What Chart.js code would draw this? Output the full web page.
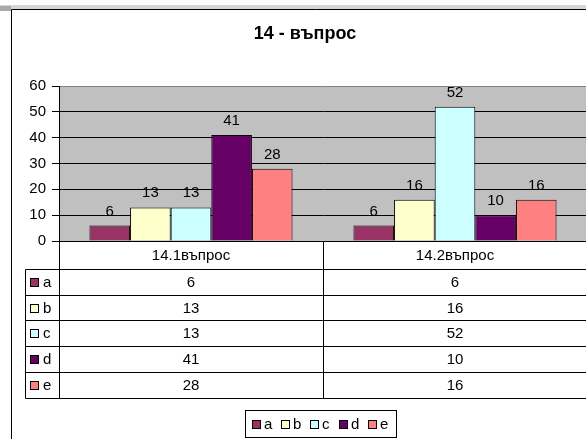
<!DOCTYPE html>
<html>
<head>
<meta charset="utf-8">
<title>14 - въпрос</title>
<script src="https://cdn.jsdelivr.net/npm/chart.js@4.4.0/dist/chart.umd.min.js"></script>
<style>
    html, body { margin: 0; padding: 0; overflow: hidden; background: #fff; }
    #wrap { position: relative; width: 620px; height: 470px; }
</style>
</head>
<body>
<div id="wrap"><canvas id="chart" width="620" height="470"></canvas></div>
<script>
const chartTitle = "14 - въпрос";
const categories = ["14.1въпрос", "14.2въпрос"];
const seriesNames = ["a", "b", "c", "d", "e"];
const seriesA = [6, 6];
const seriesB = [13, 16];
const seriesC = [13, 52];
const seriesD = [41, 10];
const seriesE = [28, 16];
const yTicks = [0, 10, 20, 30, 40, 50, 60];

const seriesValues = [seriesA, seriesB, seriesC, seriesD, seriesE];
const seriesColors = ["#993366", "#FFFFCC", "#CCFFFF", "#660066", "#FF8080"];
const FONT = "Arial, 'Liberation Sans', sans-serif";

document.addEventListener("DOMContentLoaded", () => {
    const ctx = document.getElementById("chart").getContext("2d");

    // frame, title and plot background
    const frame = {
        id: "frame",
        beforeDraw(chart) {
            const c = chart.ctx;
            const a = chart.chartArea;
            c.save();
            c.fillStyle = "#d6d6d6";
            c.fillRect(0, 5, chart.width, 4);
            c.fillStyle = "#a8a8a8";
            c.fillRect(0, 6, 11, 5);
            c.strokeStyle = "#000";
            c.lineWidth = 1;
            c.beginPath();
            c.moveTo(11.5, chart.height);
            c.lineTo(11.5, 9.5);
            c.lineTo(chart.width, 9.5);
            c.stroke();

            c.fillStyle = "#C0C0C0";
            c.fillRect(a.left, a.top, a.right - a.left, a.bottom - a.top);

            c.fillStyle = "#000";
            c.font = "bold 18px " + FONT;
            c.textAlign = "center";
            c.textBaseline = "middle";
            c.fillText(chartTitle, 305, 34);
            c.restore();
        }
    };

    // values above the bars
    const barLabels = {
        id: "barLabels",
        afterDatasetsDraw(chart) {
            const c = chart.ctx;
            c.save();
            c.fillStyle = "#000";
            c.font = "15px " + FONT;
            c.textAlign = "center";
            c.textBaseline = "alphabetic";
            chart.data.datasets.forEach((ds, i) => {
                chart.getDatasetMeta(i).data.forEach((bar, j) => {
                    c.fillText(String(ds.data[j]), bar.x, bar.y - 10);
                });
            });
            c.restore();
        }
    };

    // data table under the plot + legend box
    const dataTable = {
        id: "dataTable",
        afterDraw(chart) {
            const c = chart.ctx;
            const a = chart.chartArea;
            const x = chart.scales.x;
            const keyLeft = 25.5;
            const headH = 27.5;
            const rowH = 25.7;
            const top = Math.round(a.bottom) + 0.5;
            const rowTops = seriesNames.map((_, i) => Math.round(top + headH + i * rowH) + 0.5);
            const bottom = Math.round(top + headH + seriesNames.length * rowH) + 0.5;
            const catW = (a.right - a.left) / categories.length;

            c.save();
            c.strokeStyle = "#000";
            c.lineWidth = 1;
            c.beginPath();
            // vertical lines
            for (let i = 0; i <= categories.length; i++) {
                const vx = Math.round(a.left + i * catW) + 0.5;
                c.moveTo(vx, top);
                c.lineTo(vx, bottom);
            }
            c.moveTo(keyLeft, rowTops[0]);
            c.lineTo(keyLeft, bottom);
            // horizontal lines
            rowTops.concat([bottom]).forEach(y => {
                c.moveTo(keyLeft, y);
                c.lineTo(chart.width, y);
            });
            c.stroke();

            c.fillStyle = "#000";
            c.font = "15px " + FONT;
            c.textAlign = "center";
            c.textBaseline = "middle";
            categories.forEach((cat, j) => {
                c.fillText(cat, x.getPixelForValue(j), top + headH / 2 + 1);
            });
            seriesNames.forEach((name, i) => {
                const cy = rowTops[i] + rowH / 2;
                seriesValues[i].forEach((v, j) => {
                    c.fillText(String(v), x.getPixelForValue(j), cy + 1);
                });
                c.fillStyle = seriesColors[i];
                c.fillRect(30, Math.round(cy) - 4, 9, 9);
                c.strokeRect(30.5, Math.round(cy) - 3.5, 8, 8);
                c.fillStyle = "#000";
                c.textAlign = "left";
                c.fillText(name, 43, cy + 1);
                c.textAlign = "center";
            });

            // legend
            c.strokeRect(245.5, 410.5, 151, 27);
            let lx = 252;
            const ly = 424;
            c.textAlign = "left";
            seriesNames.forEach((name, i) => {
                c.fillStyle = seriesColors[i];
                c.fillRect(lx, ly - 4, 9, 9);
                c.strokeRect(lx + 0.5, ly - 3.5, 8, 8);
                c.fillStyle = "#000";
                c.fillText(name, lx + 12, ly + 1);
                lx += 29;
            });
            c.restore();
        }
    };

    new Chart(ctx, {
        type: "bar",
        data: {
            labels: categories,
            datasets: seriesNames.map((name, i) => ({
                label: name,
                data: seriesValues[i],
                backgroundColor: seriesColors[i],
                borderColor: "#000",
                borderWidth: 1,
                borderSkipped: "start",
                categoryPercentage: 5 / 6.5,
                barPercentage: 1
            }))
        },
        options: {
            responsive: false,
            animation: false,
            events: [],
            layout: { padding: { left: 0, top: 86, right: 33, bottom: 229 } },
            plugins: {
                legend: { display: false },
                title: { display: false },
                tooltip: { enabled: false }
            },
            scales: {
                x: { type: "category", display: false },
                y: {
                    min: yTicks[0],
                    max: yTicks[yTicks.length - 1],
                    afterBuildTicks: scale => { scale.ticks = yTicks.map(v => ({ value: v })); },
                    afterFit: scale => { scale.width = 59; },
                    ticks: { color: "#000", font: { family: FONT, size: 15 }, padding: 6 },
                    grid: {
                        color: c => (c.tick && c.tick.value === 60 ? "#808080" : "#000"),
                        tickLength: 7,
                        tickColor: "#000"
                    },
                    border: { color: "#000" }
                }
            }
        },
        plugins: [frame, barLabels, dataTable]
    });
});
</script>
</body>
</html>
